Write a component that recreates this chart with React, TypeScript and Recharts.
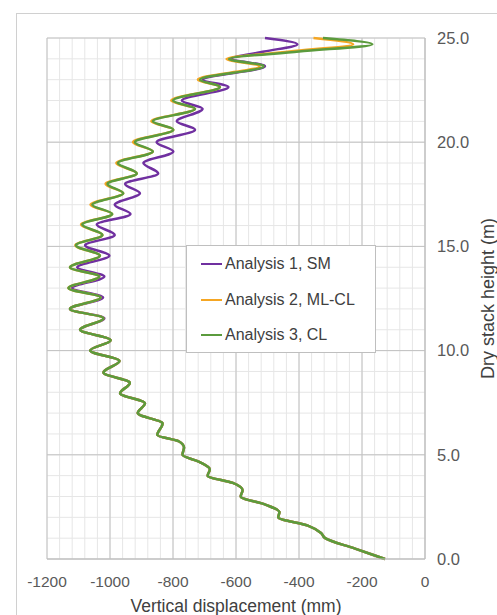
import React from 'react'
import { CartesianGrid, Legend, Line, LineChart, XAxis, YAxis } from 'recharts'

// dry stack height (m), shared by the three analyses
const heights = [
  0, 0.5, 1.0, 1.25, 1.6, 2.0, 2.25, 2.6, 3.0, 3.3, 3.65, 4.0, 4.3, 4.65, 5.0, 5.35, 5.65, 5.95, 6.5,
  7.0, 7.47, 7.95, 8.45, 8.95, 9.5, 10.0, 10.5, 11.0, 11.55, 12.0, 12.55, 13.0, 13.55, 14.0, 14.55,
  15.05, 15.55, 16.05, 16.55, 17.0, 17.55, 18.0, 18.5, 19.0, 19.55, 20.0, 20.6, 21.0, 21.6, 22.0,
  22.65, 23.0, 23.65, 24.0, 24.35, 24.7, 25.0,
]

// vertical displacement (mm)
const analysis1 = [
  -127, -222, -317, -330, -372, -466, -462, -505, -585, -579, -610, -690, -683, -715, -770, -765, -782, -850, -833,
  -912, -889, -968, -937, -1021, -970, -1063, -998, -1095, -1018, -1127, -1022, -1120, -1018, -1104, -1002,
  -1079, -985, -1042, -935, -985, -905, -952, -847, -894, -799, -852, -730, -788, -706, -772,
  -624, -705, -508, -615, -510, -405, -508,
]
const analysis2 = [
  -127, -222, -317, -330, -372, -466, -462, -505, -585, -579, -610, -690, -683, -715, -770, -765, -782, -850, -833,
  -912, -889, -968, -937, -1021, -970, -1063, -998, -1095, -1021, -1127, -1030, -1132, -1034, -1127, -1032,
  -1110, -1024, -1092, -993, -1062, -958, -1014, -915, -980, -864, -927, -799, -869, -730, -806,
  -651, -721, -525, -630, -430, -228, -354,
]
const analysis3 = [
  -127, -222, -317, -330, -372, -466, -462, -505, -585, -579, -610, -690, -683, -715, -770, -765, -782, -850, -833,
  -912, -889, -968, -937, -1021, -970, -1063, -998, -1095, -1021, -1127, -1030, -1132, -1034, -1127, -1032,
  -1108, -1024, -1088, -993, -1056, -958, -1008, -915, -975, -864, -921, -799, -864, -730, -800,
  -651, -714, -512, -622, -400, -167, -324,
]

const seriesNames = ['Analysis 1, SM', 'Analysis 2, ML-CL', 'Analysis 3, CL']
const seriesKeys = ['a1', 'a2', 'a3']
const seriesColors = ['#7030A0', '#F5A623', '#5B9B3D']

const xTicks = [-1200, -1000, -800, -600, -400, -200, 0]
const yTicks = [0, 5, 10, 15, 20, 25]
const xMinor = Array.from({ length: 31 }, (_, i) => -1200 + i * 40)
const yMinor = Array.from({ length: 26 }, (_, i) => i)

const data = heights.map((h, i) => ({ h, a1: analysis1[i], a2: analysis2[i], a3: analysis3[i] }))

const font = '"Liberation Sans", Arial, sans-serif'

const LegendBox = () => (
  <div style={{ position: 'relative', width: 188, height: 106, border: '1px solid #bfbfbf', background: '#fff', fontFamily: font }}>
    {seriesNames.map((name, i) => (
      <div key={name} style={{ position: 'absolute', left: 14, top: 8 + i * 35.5, height: 20, display: 'flex', alignItems: 'center', whiteSpace: 'nowrap' }}>
        <span style={{ display: 'inline-block', width: 21, height: 2, background: seriesColors[i], marginRight: 3 }} />
        <span style={{ fontSize: 16, color: '#404040' }}>{name}</span>
      </div>
    ))}
  </div>
)

const YTitle = (props: any) => {
  const { x, y, height } = props.viewBox
  const cx = x + 63
  const cy = y + height / 2
  return (
    <text x={cx} y={cy} transform={`rotate(-90, ${cx}, ${cy})`} textAnchor="middle" dominantBaseline="central"
      fill="#404040" fontSize={18} fontFamily={font}>
      Dry stack height (m)
    </text>
  )
}

export default function App() {
  return (
    <div style={{ position: 'absolute', left: 0, top: 0, width: 497, height: 615, background: '#fff', overflow: 'hidden', fontFamily: font }}>
      <div style={{ position: 'absolute', left: 16, top: 13, width: 520, height: 640, border: '1px solid #d0d0d0' }} />
      <LineChart layout="vertical" width={497} height={615} data={data}
        margin={{ top: 38, right: 12, bottom: 26, left: 47 }}>
        <CartesianGrid stroke="#e6e6e6" verticalValues={xMinor} horizontalValues={yMinor} />
        <CartesianGrid stroke="#c2c2c2" verticalValues={xTicks} horizontalValues={yTicks} />
        <XAxis type="number" domain={[-1200, 0]} ticks={xTicks} interval={0} height={30}
          tickLine={false} tickSize={6} tickMargin={10.5}
          axisLine={{ stroke: '#bfbfbf' }} tick={{ fill: '#595959', fontSize: 15.5, fontFamily: font }}
          label={{ value: 'Vertical displacement (mm)', position: 'bottom', offset: 11, fill: '#404040', fontSize: 17.5, fontFamily: font }} />
        <YAxis type="number" dataKey="h" orientation="right" reversed domain={[0, 25]} ticks={yTicks} interval={0} width={60}
          tickFormatter={(v: number) => v.toFixed(1)} tickLine={false} tickSize={6} tickMargin={6}
          axisLine={{ stroke: '#bfbfbf' }} tick={{ fill: '#595959', fontSize: 16.5, fontFamily: font }}
          label={YTitle} />
        {seriesKeys.map((k, i) => (
          <Line key={k} dataKey={k} name={seriesNames[i]} type="monotone" stroke={seriesColors[i]} strokeWidth={2.5}
            dot={false} activeDot={false} isAnimationActive={false} />
        ))}
        <Legend layout="vertical" align="center" verticalAlign="middle"
          wrapperStyle={{ left: 186, top: 245, width: 190, height: 108 }} content={LegendBox} />
      </LineChart>
    </div>
  )
}
